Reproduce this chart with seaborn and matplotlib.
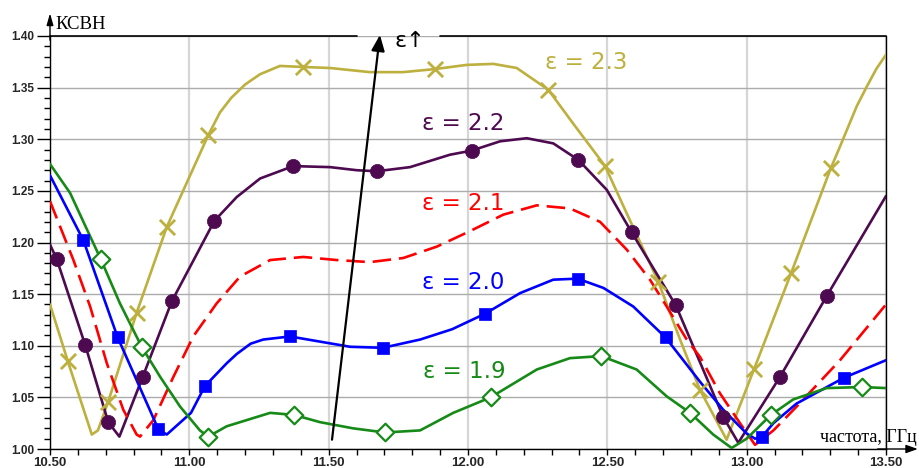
import matplotlib
matplotlib.use("Agg")
import matplotlib.pyplot as plt
import matplotlib.ticker as mticker
import pandas as pd
import seaborn as sns

# ---------------- data ----------------
eps_levels = ["2.3", "2.2", "2.1", "2.0", "1.9"]

f23 = [10.50, 10.564, 10.650, 10.672, 10.709, 10.811, 10.919, 11.068, 11.110, 11.150,
       11.200, 11.254, 11.325, 11.409, 11.505, 11.648, 11.767, 11.882, 11.995, 12.091,
       12.175, 12.288, 12.378, 12.492, 12.570, 12.683, 12.761, 12.833, 12.928, 13.026,
       13.159, 13.302, 13.335, 13.395, 13.431, 13.465, 13.500]
v23 = [1.140, 1.085, 1.014, 1.018, 1.046, 1.132, 1.215, 1.304, 1.326, 1.340,
       1.353, 1.363, 1.371, 1.370, 1.369, 1.365, 1.365, 1.368, 1.372, 1.373,
       1.369, 1.348, 1.315, 1.274, 1.228, 1.162, 1.106, 1.057, 1.009, 1.077,
       1.170, 1.272, 1.293, 1.332, 1.351, 1.368, 1.382]
m23_f = [10.564, 10.709, 10.811, 10.919, 11.068, 11.409, 11.882, 12.288, 12.492, 12.683,
         12.833, 13.026, 13.159, 13.302]
m23_v = [1.085, 1.046, 1.132, 1.215, 1.304, 1.370, 1.368, 1.348, 1.274, 1.162,
         1.057, 1.077, 1.170, 1.272]

f22 = [10.50, 10.524, 10.626, 10.709, 10.749, 10.833, 10.937, 11.090, 11.170, 11.254,
       11.373, 11.505, 11.601, 11.672, 11.792, 11.935, 12.013, 12.115, 12.211, 12.306,
       12.396, 12.498, 12.587, 12.746, 12.916, 12.970, 13.120, 13.287, 13.500]
v22 = [1.198, 1.184, 1.101, 1.026, 1.012, 1.070, 1.143, 1.221, 1.244, 1.262,
       1.274, 1.273, 1.270, 1.269, 1.273, 1.285, 1.289, 1.298, 1.301, 1.296,
       1.280, 1.251, 1.210, 1.139, 1.031, 1.006, 1.070, 1.148, 1.245]
m22_f = [10.524, 10.626, 10.709, 10.833, 10.937, 11.090, 11.373, 11.672, 12.013, 12.396,
         12.587, 12.746, 12.916, 13.120, 13.287]
m22_v = [1.184, 1.101, 1.026, 1.070, 1.143, 1.221, 1.274, 1.269, 1.289, 1.280,
         1.210, 1.139, 1.031, 1.070, 1.148]

f21 = [10.50, 10.584, 10.644, 10.704, 10.763, 10.811, 10.823, 10.871, 10.943, 11.014,
       11.098, 11.182, 11.290, 11.409, 11.529, 11.648, 11.768, 11.888, 12.007, 12.127,
       12.247, 12.366, 12.474, 12.570, 12.653, 12.713, 12.785, 12.833, 12.904, 12.976,
       13.030, 13.096, 13.179, 13.335, 13.500]
v21 = [1.240, 1.183, 1.138, 1.083, 1.038, 1.014, 1.012, 1.028, 1.070, 1.109,
       1.141, 1.167, 1.183, 1.186, 1.183, 1.181, 1.185, 1.196, 1.211, 1.227,
       1.236, 1.233, 1.220, 1.193, 1.164, 1.138, 1.106, 1.089, 1.054, 1.025,
       1.004, 1.018, 1.041, 1.086, 1.140]

f20 = [10.50, 10.620, 10.743, 10.889, 10.919, 11.006, 11.056, 11.134, 11.170, 11.220,
       11.265, 11.361, 11.469, 11.577, 11.694, 11.828, 11.943, 12.061, 12.187, 12.306,
       12.393, 12.486, 12.593, 12.709, 12.833, 12.916, 13.000, 13.030, 13.055, 13.096,
       13.179, 13.349, 13.500]
v20 = [1.265, 1.202, 1.108, 1.019, 1.014, 1.035, 1.061, 1.083, 1.092, 1.102,
       1.106, 1.109, 1.104, 1.099, 1.098, 1.106, 1.116, 1.131, 1.151, 1.164,
       1.165, 1.156, 1.138, 1.108, 1.065, 1.038, 1.015, 1.010, 1.012, 1.025,
       1.044, 1.069, 1.086]
m20_f = [10.620, 10.743, 10.889, 11.056, 11.361, 11.694, 12.061, 12.393, 12.709, 13.055, 13.349]
m20_v = [1.202, 1.108, 1.019, 1.061, 1.109, 1.098, 1.131, 1.165, 1.108, 1.012, 1.069]

f19 = [10.50, 10.572, 10.644, 10.682, 10.751, 10.829, 10.895, 10.967, 11.038, 11.068,
       11.134, 11.170, 11.290, 11.376, 11.469, 11.588, 11.702, 11.828, 11.947, 12.081,
       12.247, 12.366, 12.478, 12.605, 12.713, 12.797, 12.880, 12.946, 13.000, 13.087,
       13.167, 13.287, 13.413, 13.500]
v19 = [1.276, 1.248, 1.206, 1.184, 1.141, 1.099, 1.070, 1.041, 1.018, 1.012,
       1.022, 1.025, 1.035, 1.033, 1.026, 1.020, 1.016, 1.018, 1.035, 1.050,
       1.077, 1.088, 1.090, 1.077, 1.051, 1.035, 1.014, 1.001, 1.010, 1.033,
       1.048, 1.059, 1.060, 1.059]
m19_f = [10.682, 10.829, 11.068, 11.376, 11.702, 12.081, 12.478, 12.797, 13.087, 13.413]
m19_v = [1.184, 1.099, 1.012, 1.033, 1.016, 1.050, 1.090, 1.035, 1.033, 1.060]

x_ticks = [10.5, 11.0, 11.5, 12.0, 12.5, 13.0, 13.5]
x_tick_labels = ["10.50", "11.00", "11.50", "12.00", "12.50", "13.00", "13.50"]
y_ticks = [1.00, 1.05, 1.10, 1.15, 1.20, 1.25, 1.30, 1.35, 1.40]
y_tick_labels = ["1.00", "1.05", "1.10", "1.15", "1.20", "1.25", "1.30", "1.35", "1.40"]

y_title = "КСВН"
x_title = "частота, ГГц"
arrow_label = "ε↑"
curve_labels = ["ε = 2.3", "ε = 2.2", "ε = 2.1", "ε = 2.0", "ε = 1.9"]

# ---------------- styling ----------------
colors = {"2.3": "#BDB03E", "2.2": "#4E0A50", "2.1": "#FF0000",
          "2.0": "#0000FF", "1.9": "#168A16"}
dash_map = {"2.3": "", "2.2": "", "2.1": (7, 3), "2.0": "", "1.9": ""}

sns.set_theme(style="white")
plt.rcParams["font.family"] = ["DejaVu Sans"]

fig = plt.figure(figsize=(9.2, 4.68), dpi=100)
ax = fig.add_axes([50 / 920, 19 / 468, 836 / 920, 413 / 468])

curves = pd.concat([
    pd.DataFrame({"f": f23, "v": v23, "eps": "2.3"}),
    pd.DataFrame({"f": f22, "v": v22, "eps": "2.2"}),
    pd.DataFrame({"f": f21, "v": v21, "eps": "2.1"}),
    pd.DataFrame({"f": f20, "v": v20, "eps": "2.0"}),
    pd.DataFrame({"f": f19, "v": v19, "eps": "1.9"}),
], ignore_index=True)

sns.lineplot(data=curves, x="f", y="v", hue="eps", style="eps",
             hue_order=eps_levels, style_order=eps_levels,
             palette=colors, dashes=dash_map, sort=False, estimator=None,
             lw=1.9, legend=False, ax=ax, zorder=3)

# markers
sns.scatterplot(x=m23_f, y=m23_v, marker="x", s=120, color=colors["2.3"],
                linewidth=2.0, ax=ax, zorder=5, legend=False)
sns.scatterplot(x=m22_f, y=m22_v, marker="o", s=105, color=colors["2.2"],
                edgecolor=colors["2.2"], linewidth=0.5, ax=ax, zorder=5, legend=False)
sns.scatterplot(x=m20_f, y=m20_v, marker="s", s=85, color=colors["2.0"],
                edgecolor=colors["2.0"], linewidth=0.5, ax=ax, zorder=5, legend=False)
sns.scatterplot(x=m19_f, y=m19_v, marker="D", s=80, facecolor="white",
                edgecolor=colors["1.9"], linewidth=1.6, ax=ax, zorder=5, legend=False)

# axes limits / ticks
ax.set_xlim(10.5, 13.5)
ax.set_ylim(1.0, 1.4)
ax.set_xticks(x_ticks)
ax.set_xticklabels(x_tick_labels, fontfamily="Liberation Sans", fontweight="bold", fontsize=9.5)
ax.set_yticks(y_ticks)
ax.set_yticklabels(y_tick_labels, fontfamily="Liberation Sans", fontweight="bold", fontsize=8.5)
ax.xaxis.set_minor_locator(mticker.MultipleLocator(0.1))
ax.yaxis.set_minor_locator(mticker.MultipleLocator(0.01))
ax.tick_params(axis="x", which="both", direction="out", length=4, width=1,
               color="black", pad=1.5, bottom=True)
ax.tick_params(axis="y", which="major", direction="out", length=9.5, width=1,
               color="black", pad=2, left=True)
ax.tick_params(axis="y", which="minor", direction="out", length=4.5, width=1,
               color="black", left=True)
ax.set_xlabel("")
ax.set_ylabel("")

# grid
ax.set_axisbelow(True)
ax.xaxis.grid(True, which="major", color="#d6d6d6", lw=1.6)
ax.yaxis.grid(True, which="major", color="#acacac", lw=1.0)

# spines
for side in ["left", "bottom", "right"]:
    ax.spines[side].set_visible(True)
    ax.spines[side].set_color("black")
    ax.spines[side].set_linewidth(1.0)
ax.spines["top"].set_visible(False)
tr = ax.get_xaxis_transform()
ax.plot([10.5, 11.602], [1, 1], color="black", lw=1.2, transform=tr, clip_on=False, zorder=6)
ax.plot([11.8995, 13.5], [1, 1], color="black", lw=1.2, transform=tr, clip_on=False, zorder=6)

# axis arrows
ax.annotate("", xy=(0, 1.055), xytext=(0, 0.99), xycoords="axes fraction",
            arrowprops=dict(arrowstyle="-|>,head_length=0.7,head_width=0.2",
                            color="black", lw=1.0, mutation_scale=10,
                            shrinkA=0, shrinkB=0), annotation_clip=False)
ax.annotate("", xy=(1.038, 0), xytext=(0.99, 0), xycoords="axes fraction",
            arrowprops=dict(arrowstyle="-|>,head_length=0.7,head_width=0.25",
                            color="black", lw=1.0, mutation_scale=10,
                            shrinkA=0, shrinkB=0), annotation_clip=False)

# axis titles
ax.text(0.006, 1.027, y_title, transform=ax.transAxes, ha="left", va="center",
        fontfamily="Liberation Serif", fontsize=13.5, color="black", clip_on=False)
ax.text(0.921, 0.027, x_title, transform=ax.transAxes, ha="left", va="center",
        fontfamily="Liberation Serif", fontsize=13, color="black", clip_on=False)

# big epsilon arrow
ax.annotate("", xy=(11.684, 1.401), xytext=(11.512, 1.009),
            arrowprops=dict(arrowstyle="-|>,head_length=0.5,head_width=0.21",
                            color="black", lw=1.6, mutation_scale=19,
                            shrinkA=0, shrinkB=0), annotation_clip=False, zorder=7)
ax.text(11.735, 1.395, arrow_label, ha="left", va="center", fontsize=16,
        color="black", zorder=7, clip_on=False)

# curve labels
label_pos = [(12.276, 1.374), (11.834, 1.3155), (11.834, 1.238), (11.834, 1.1613), (11.838, 1.075)]
for lab, lev, (lx, ly) in zip(curve_labels, eps_levels, label_pos):
    ax.text(lx, ly, lab, ha="left", va="center", fontsize=16.5, color=colors[lev], zorder=8)

fig.savefig("out.png", dpi=100)
